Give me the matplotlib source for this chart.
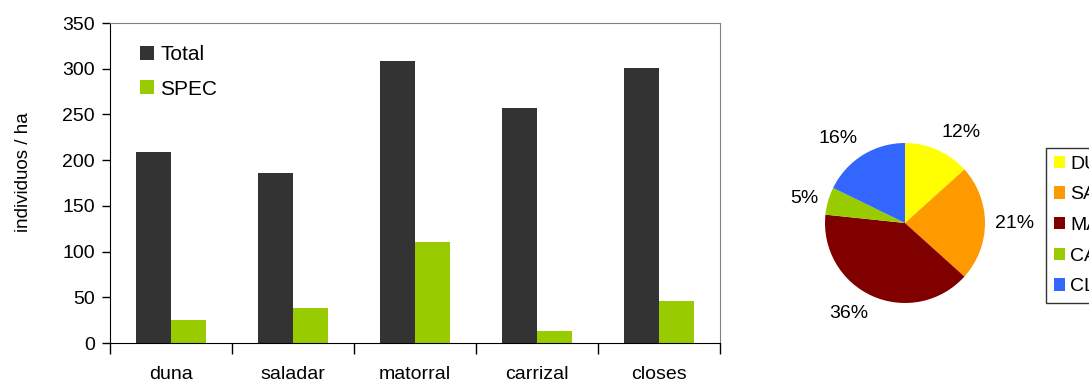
import matplotlib
matplotlib.use("Agg")
import matplotlib.pyplot as plt
import numpy as np

plt.rcParams['font.family'] = ['Liberation Sans', 'DejaVu Sans']

# Densities per habitat
categories = ["duna", "saladar", "matorral", "carrizal", "closes"]
total = [209, 186, 308, 257, 301]
spec = [25, 38, 110, 13, 46]

# Share of each habitat (pie)
pie_labels = ["DUNA", "SALADAR", "MATORRAL", "CARRIZAL", "CLOSES"]
pie_values = [12, 21, 36, 5, 16]
pie_colors = ["#FFFF00", "#FF9900", "#800000", "#99CC00", "#3366FF"]

W, H = 1089, 383
fig = plt.figure(figsize=(W / 100, H / 100), dpi=100)

FS = 14

# ---- bar chart ----
ax = fig.add_axes([110 / W, (H - 343) / H, 610 / W, 320 / H])
x = np.arange(len(categories))
w = 0.2857
ax.bar(x - w / 2, total, w, color="#333333", label="Total", zorder=2)
ax.bar(x + w / 2, spec, w, color="#99CC00", label="SPEC", zorder=2)
ax.set_xlim(-0.5, len(categories) - 0.5)
ax.set_ylim(0, 350)
ax.set_yticks(np.arange(0, 351, 50))
ax.set_xticks(np.arange(-0.5, len(categories), 1.0))
ax.set_xticklabels([])
ax.set_xticks(x, minor=True)
ax.set_xticklabels(categories, minor=True)
ax.tick_params(axis="x", which="major", direction="out", length=8, width=1, color="black")
ax.tick_params(axis="x", which="minor", length=0, pad=16.5, labelsize=FS)
ax.tick_params(axis="y", direction="out", length=6, width=1, pad=5, labelsize=FS)
for s in ("top", "right"):
    ax.spines[s].set_color("#808080")
for s in ("left", "bottom"):
    ax.spines[s].set_color("black")
fig.text(24 / W, 1 - 172 / H, "individuos / ha", rotation=90, fontsize=13.5,
         ha="center", va="center")
ax.legend(loc="upper left", bbox_to_anchor=(0.019, 0.99), frameon=False,
          fontsize=15, handlelength=0.65, handleheight=0.65, handletextpad=0.3,
          labelspacing=0.75)

# ---- pie chart ----
pax = fig.add_axes([825 / W, (H - 303) / H, 160 / W, 160 / H])
wedges, texts = pax.pie(pie_values, colors=pie_colors, startangle=90, counterclock=False,
                        labels=[f"{v}%" for v in pie_values], labeldistance=1.12,
                        textprops=dict(fontsize=FS),
                        wedgeprops=dict(linewidth=0))
# place each percentage just outside its wedge, aligned away from the pie
for wd, t in zip(wedges, texts):
    ang = np.deg2rad((wd.theta1 + wd.theta2) / 2)
    cx, cy = np.cos(ang), np.sin(ang)
    t.set_position((1.12 * cx, 1.12 * cy))
    t.set_ha("left" if cx > 0.2 else ("right" if cx < -0.2 else "center"))
    t.set_va("bottom" if cy > 0.3 else ("top" if cy < -0.3 else "center"))
pax.set_xlim(-1, 1)
pax.set_ylim(-1, 1)
pax.set_aspect("equal")

leg = fig.legend(wedges, pie_labels, loc="upper left",
                 bbox_to_anchor=(1046 / W, 1 - 148 / H), fontsize=FS,
                 frameon=True, fancybox=False, edgecolor="black",
                 handlelength=0.6, handleheight=0.6, handletextpad=0.25,
                 labelspacing=0.7, borderpad=0.4, borderaxespad=0)
leg.get_frame().set_linewidth(1.0)

fig.savefig("out.png", dpi=100)
